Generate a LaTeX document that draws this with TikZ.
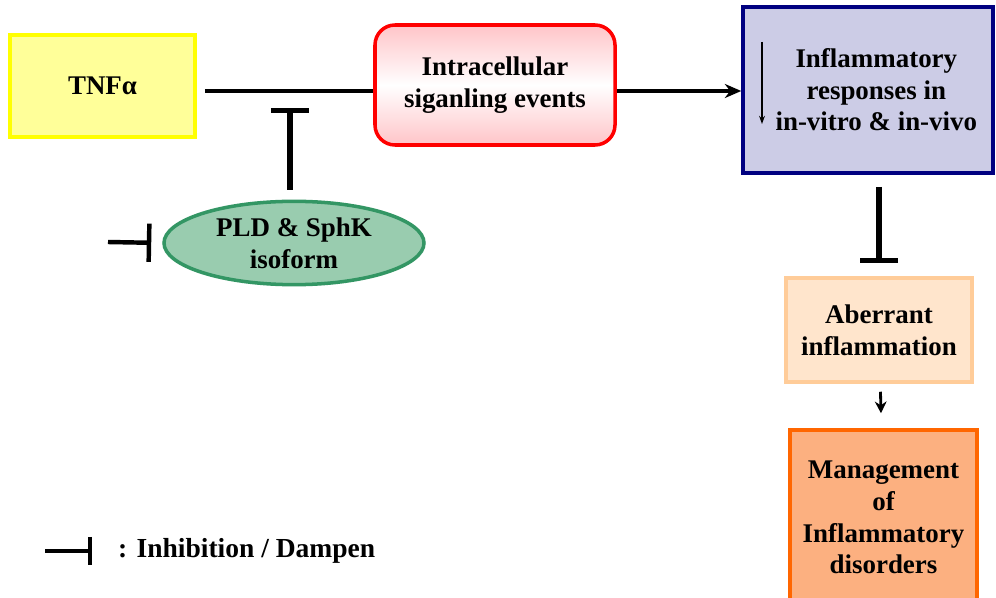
\documentclass[tikz,border=0pt]{standalone}
\usepackage{fontspec}
\setmainfont{Liberation Serif}
\usetikzlibrary{shapes.geometric,arrows.meta}
\definecolor{tnffill}{RGB}{255,255,153}
\definecolor{tnfdraw}{RGB}{255,255,0}
\definecolor{sigdraw}{RGB}{255,0,0}
\definecolor{sigfill}{RGB}{255,196,200}
\definecolor{inffill}{RGB}{204,204,230}
\definecolor{infdraw}{RGB}{0,0,128}
\definecolor{aberfill}{RGB}{255,229,204}
\definecolor{aberdraw}{RGB}{255,204,153}
\definecolor{mgmtfill}{RGB}{252,176,128}
\definecolor{mgmtdraw}{RGB}{255,102,0}
\definecolor{ellfill}{RGB}{153,204,175}
\definecolor{elldraw}{RGB}{51,150,100}
\tikzstyle{box}=[draw, line width=3pt, inner sep=0pt, align=center, font=\fontsize{23}{27}\selectfont\bfseries]
\tikzstyle{link}=[line width=3.6pt]
\tikzstyle{activate}=[line width=3.6pt, -{Stealth[length=14pt,width=12pt]}]
\tikzstyle{smallarrow}=[line width=2.4pt, -{Stealth[length=10pt,width=10pt]}]
\tikzstyle{inhibit}=[line width=4.5pt, -{Bar[width=1.15cm]}]
\begin{document}
\begin{tikzpicture}[x=0.03cm, y=-0.03cm]
				\path[use as bounding box, fill=white] (0,0) rectangle (996,598);
				
				\node[box, fill=tnffill, draw=tnfdraw, minimum width=5.55cm, minimum height=3.06cm] (tnf) at (102.5,86) {TNFα};
				\node[box, draw=sigdraw, rounded corners=0.6cm, top color=sigfill, bottom color=sigfill, middle color=white, minimum width=7.2cm, minimum height=3.6cm] (sig) at (495,85) {Intracellular\\siganling events};
				\node[box, fill=inffill, draw=infdraw, minimum width=7.5cm, minimum height=4.98cm] (infl) at (868,90) {\hspace{0.5cm}Inflammatory\\\hspace{0.5cm}responses in\\\hspace{0.5cm}in-vitro \& in-vivo};
				\node[box, fill=aberfill, draw=aberdraw, minimum width=5.58cm, minimum height=3.12cm] (aber) at (879,330) {Aberrant\\inflammation};
				\node[box, fill=mgmtfill, draw=mgmtdraw, minimum width=5.61cm, minimum height=5.25cm] (mgmt) at (883.5,517.5) {Management\\of\\Inflammatory\\disorders};
				\node[box, ellipse, fill=ellfill, draw=elldraw, minimum width=7.8cm, minimum height=2.5cm] (ell) at (294,243) {PLD \& SphK\\isoform};
				
				\coordinate (hit) at (290,108);
				\coordinate (lft) at (108,242);
				\coordinate (da1) at (762,42);
				\coordinate (da2) at (762,124);
				
				\draw[link, shorten <=0.24cm] ([yshift=-0.15cm]tnf.east) to ([yshift=-0.15cm]tnf.east -| sig.west);
				\draw[activate] ([yshift=-0.15cm]tnf.east -| sig.east) to ([yshift=-0.15cm]tnf.east -| infl.west);
				\draw[line width=1.2pt, -{Stealth[length=7pt,width=5pt]}] (da1) to (da2);
				\draw[inhibit, shorten <=0.3cm] (ell.north -| hit) to (hit);
				\draw[inhibit, line width=3.8pt, shorten >=0.33cm] (lft) to (ell.west);
				\draw[inhibit, shorten <=0.36cm, shorten >=0.39cm] (infl.south -| aber.north) to (aber.north);
				\draw[smallarrow, shorten <=0.24cm, shorten >=0.45cm] (aber) to (mgmt);
				
				\coordinate (leg1) at (45,551);
				\coordinate (leg2) at (92,551);
				\draw[inhibit, line width=3.8pt, -{Bar[width=0.85cm]}] (leg1) to (leg2);
				\node[anchor=west, inner sep=0pt, font=\fontsize{23.5}{27}\selectfont\bfseries] (legtxt) at (118,551) {: Inhibition / Dampen};
			\end{tikzpicture}
\end{document}
